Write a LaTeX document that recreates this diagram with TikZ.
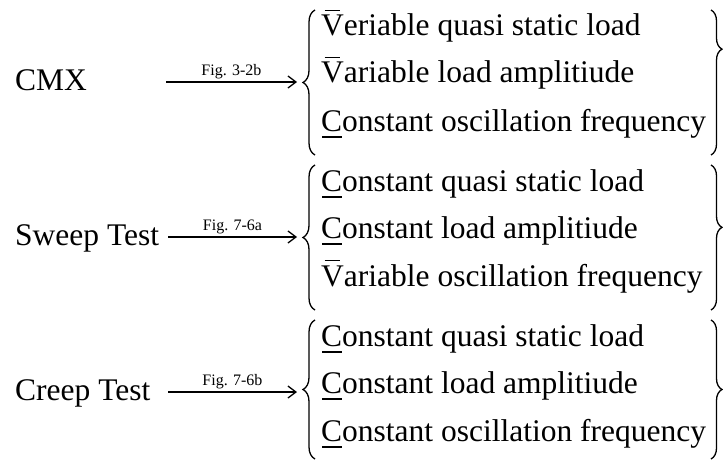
\documentclass[tikz,border=0pt]{standalone}
\usepackage{fontspec}
\setmainfont{Liberation Serif}
\usetikzlibrary{arrows.meta,decorations.pathreplacing}

% letter with a short bar above it / a bar below it
\newsavebox\barbox
\newcommand\topbar[1]{\sbox\barbox{#1}\rlap{\hspace{3.5pt}\rule[\dimexpr\ht\barbox+4.5pt\relax]{\dimexpr\wd\barbox-7pt\relax}{1.3pt}}\usebox\barbox}
\newcommand\lowbar[1]{\sbox\barbox{#1}\rlap{\hspace{1pt}\rule[-6.5pt]{\dimexpr\wd\barbox-1pt\relax}{1.3pt}}\usebox\barbox}

\begin{document}
\begin{tikzpicture}[x=1pt,y=-1pt,
  testname/.style={anchor=base west,inner sep=0pt,font=\fontsize{31.5}{38}\selectfont},
  itemtext/.style={anchor=base west,inner sep=0pt,font=\fontsize{31.5}{38}\selectfont},
  figlbl/.style={above,inner sep=2.5pt,font=\fontsize{16}{19}\selectfont},
  arr/.style={line width=1.3pt,-{Straight Barb[length=8pt,width=12pt,line width=1.3pt]}},
  lbrace/.style={line width=1.3pt,decorate,decoration={brace,amplitude=12pt}},
  rbrace/.style={line width=1.3pt,decorate,decoration={brace,amplitude=11pt,aspect=#1}},
]
\useasboundingbox (0,0) rectangle (723,460);

% ---- CMX ----
\node[testname] (cmx) at (15,90) {CMX};
\coordinate (s1) at (166,82);
\coordinate (e1) at (297,82);
\draw[arr] (s1) -- node[figlbl] (f1) {Fig. 3-2b} (e1);
\coordinate (l1t) at (315,10);
\coordinate (l1b) at (315,155);
\draw[lbrace] (l1b) -- (l1t);
\node[itemtext] (a1) at (321,36) {\topbar{V}eriable quasi static load};
\node[itemtext] (a2) at (321,83) {\topbar{V}ariable load amplitiude};
\node[itemtext] (a3) at (321,131) {\lowbar{C}onstant oscillation frequency};
\coordinate (r1t) at (711,10);
\coordinate (r1b) at (711,155);
\draw[rbrace=0.27] (r1t) -- (r1b);

% ---- Sweep Test ----
\node[testname] (sweep) at (15,245) {Sweep Test};
\coordinate (s2) at (168,237);
\coordinate (e2) at (297,237);
\draw[arr] (s2) -- node[figlbl] (f2) {Fig. 7-6a} (e2);
\coordinate (l2t) at (315,165);
\coordinate (l2b) at (315,310);
\draw[lbrace] (l2b) -- (l2t);
\node[itemtext] (b1) at (321,191) {\lowbar{C}onstant quasi static load};
\node[itemtext] (b2) at (321,238) {\lowbar{C}onstant load amplitiude};
\node[itemtext] (b3) at (321,286) {\topbar{V}ariable oscillation frequency};
\coordinate (r2t) at (711,165);
\coordinate (r2b) at (711,310);
\draw[rbrace=0.43] (r2t) -- (r2b);

% ---- Creep Test ----
\node[testname] (creep) at (15,400) {Creep Test};
\coordinate (s3) at (168,392);
\coordinate (e3) at (297,392);
\draw[arr] (s3) -- node[figlbl] (f3) {Fig. 7-6b} (e3);
\coordinate (l3t) at (315,320);
\coordinate (l3b) at (315,459);
\draw[lbrace] (l3b) -- (l3t);
\node[itemtext] (c1) at (321,346) {\lowbar{C}onstant quasi static load};
\node[itemtext] (c2) at (321,393) {\lowbar{C}onstant load amplitiude};
\node[itemtext] (c3) at (321,441) {\lowbar{C}onstant oscillation frequency};
\coordinate (r3t) at (711,320);
\coordinate (r3b) at (711,459);
\draw[rbrace=0.5] (r3t) -- (r3b);
\end{tikzpicture}
\end{document}
